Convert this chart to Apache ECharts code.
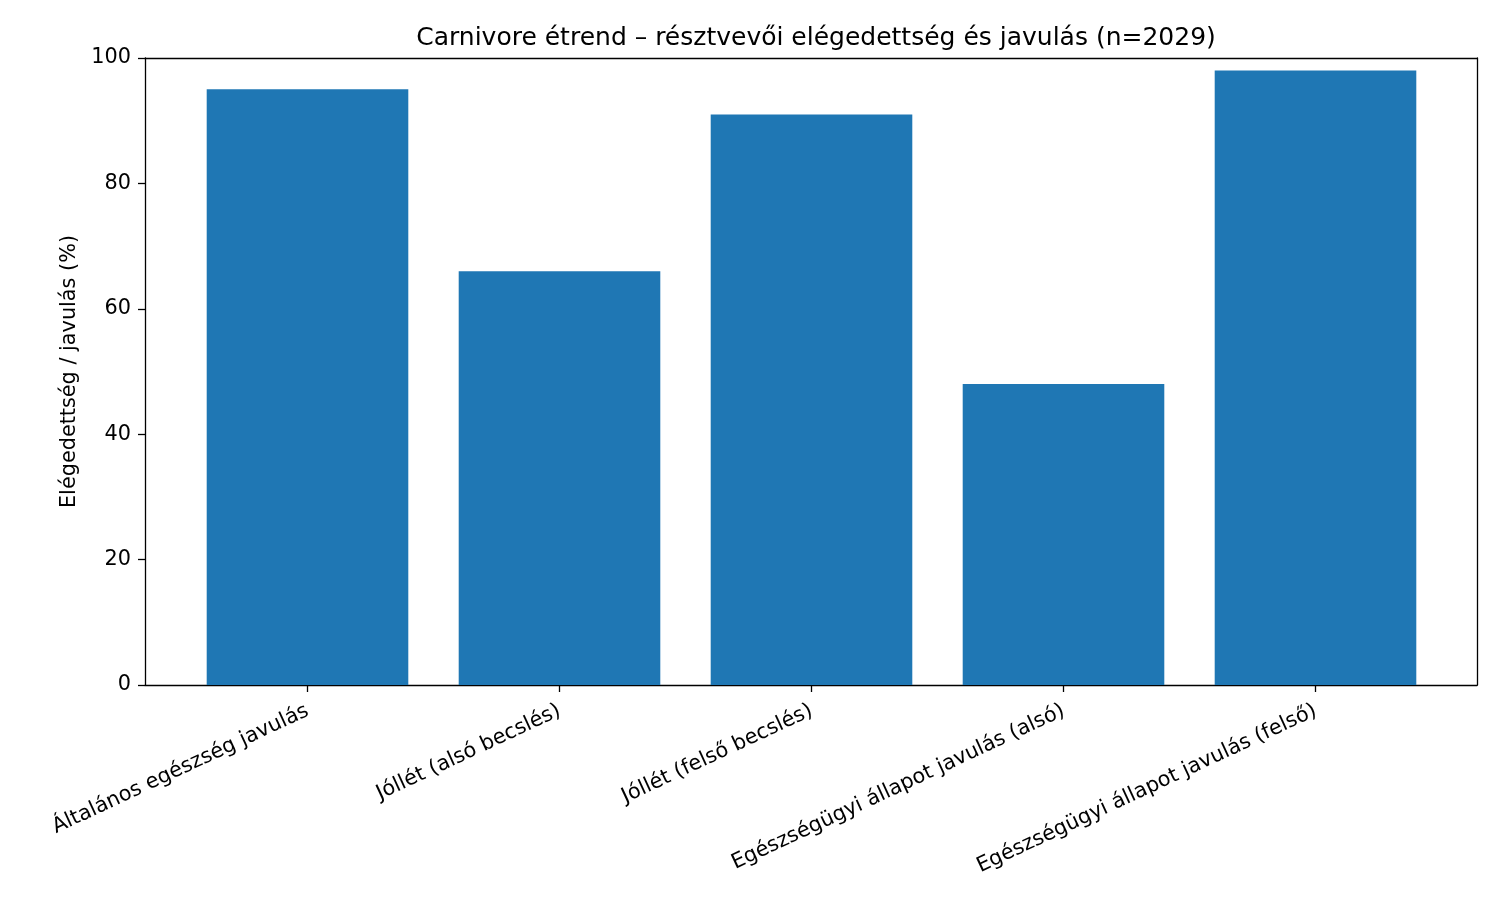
<!DOCTYPE html>
<html>
<head>
<meta charset="utf-8">
<script src="https://cdn.jsdelivr.net/npm/echarts@6/dist/echarts.min.js"></script>
<style>html,body{margin:0;padding:0;background:#fff;}#c{width:1500px;height:900px;}</style>
</head>
<body>
<div id="c"></div>
<script>
const categories = [
  'Általános egészség javulás',
  'Jóllét (alsó becslés)',
  'Jóllét (felső becslés)',
  'Egészségügyi állapot javulás (alsó)',
  'Egészségügyi állapot javulás (felső)'
];
const values = [95, 66, 91, 48, 98];
const yTicks = [0, 20, 40, 60, 80, 100];

const chart = echarts.init(document.getElementById('c'), null, {renderer: 'canvas'});
const font = 'DejaVu Sans';
const lineStyle = {color: '#000', width: 1.3};
chart.setOption({
  animation: false,
  backgroundColor: '#fff',
  title: {
    text: 'Carnivore étrend – résztvevői elégedettség és javulás (n=2029)',
    left: 811, top: 21, textAlign: 'center',
    textStyle: {fontFamily: font, fontSize: 25, fontWeight: 'normal', color: '#000'}
  },
  grid: [
    {left: 145, right: 23, top: 58, bottom: 215},
    {left: 181.5, right: 58.5, top: 58, bottom: 215}
  ],
  xAxis: [
    {gridIndex: 0, type: 'value', min: 0, max: 1, position: 'bottom',
     axisLine: {show: true, onZero: false, lineStyle}, axisTick: {show: false}, axisLabel: {show: false}, splitLine: {show: false}},
    {gridIndex: 0, type: 'value', min: 0, max: 1, position: 'top',
     axisLine: {show: true, onZero: false, lineStyle}, axisTick: {show: false}, axisLabel: {show: false}, splitLine: {show: false}},
    {gridIndex: 1, type: 'category', data: categories, position: 'bottom',
     axisLine: {show: false},
     axisTick: {show: true, alignWithLabel: true, length: 7, lineStyle},
     axisLabel: {rotate: 25, fontFamily: font, fontSize: 20.8, color: '#000', margin: 25, interval: 0},
     splitLine: {show: false}}
  ],
  yAxis: [
    {gridIndex: 0, type: 'value', min: 0, max: 100, interval: 20, position: 'left',
     name: 'Elégedettség / javulás (%)', nameLocation: 'middle', nameGap: 58,
     nameTextStyle: {fontFamily: font, fontSize: 20.8, color: '#000'},
     axisLine: {show: true, onZero: false, lineStyle},
     axisTick: {show: true, length: 7, lineStyle},
     axisLabel: {fontFamily: font, fontSize: 20.8, color: '#000', margin: 14,
       formatter: v => yTicks.includes(v) ? String(v) : ''},
     splitLine: {show: false}},
    {gridIndex: 0, type: 'value', min: 0, max: 100, position: 'right',
     axisLine: {show: true, onZero: false, lineStyle}, axisTick: {show: false}, axisLabel: {show: false}, splitLine: {show: false}},
    {gridIndex: 1, type: 'value', min: 0, max: 100, show: false, splitLine: {show: false}}
  ],
  series: [{
    type: 'bar', xAxisIndex: 2, yAxisIndex: 2,
    data: values, barWidth: '80%',
    itemStyle: {color: '#1f77b4'}
  }]
});
</script>
</body>
</html>
